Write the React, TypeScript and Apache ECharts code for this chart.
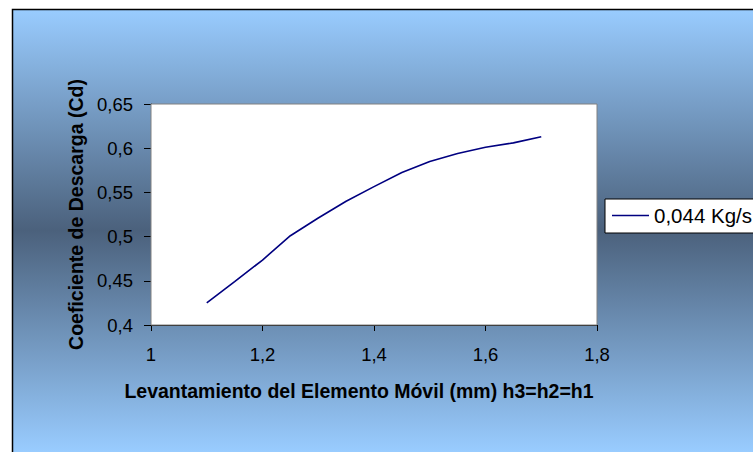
import React, { useEffect, useRef } from "react";
import * as echarts from "echarts";

const xValues = [1.1, 1.15, 1.2, 1.25, 1.3, 1.35, 1.4, 1.45, 1.5, 1.55, 1.6, 1.65, 1.7];
const cdValues = [0.425, 0.449, 0.4735, 0.501, 0.521, 0.54, 0.5565, 0.5725, 0.585, 0.594, 0.601, 0.606, 0.613];
const seriesName = "0,044 Kg/s";
const xTitle = "Levantamiento del Elemento Móvil (mm) h3=h2=h1";
const yTitle = "Coeficiente de Descarga (Cd)";

const fmt = (v: number) => String(+v.toFixed(2)).replace(".", ",");

export default function App() {
  const ref = useRef<HTMLDivElement>(null);
  useEffect(() => {
    document.body.style.margin = "0";
    const chart = echarts.init(ref.current!, null, { renderer: "svg" });
    const font = "'Liberation Sans', Arial, sans-serif";
    chart.setOption({
      animation: false,
      backgroundColor: "#ffffff",
      graphic: [
        {
          type: "rect",
          z: -10,
          silent: true,
          shape: { x: 12.5, y: 9.5, width: 800, height: 500 },
          style: {
            fill: new echarts.graphic.LinearGradient(
              0, 9, 0, 452,
              [
                { offset: 0, color: "#99CCFF" },
                { offset: 0.5, color: "#4B617C" },
                { offset: 1, color: "#99CCFF" },
              ],
              true
            ),
            stroke: "#000",
            lineWidth: 1.5,
          },
        },
      ],
      grid: {
        left: 151,
        top: 104,
        width: 446,
        height: 221,
        show: true,
        backgroundColor: "#ffffff",
        borderColor: "#808080",
        borderWidth: 1,
        z: 1,
      },
      legend: {
        left: 605,
        top: 199,
        backgroundColor: "#ffffff",
        borderColor: "#000",
        borderWidth: 1,
        borderRadius: 0,
        padding: [6, 30, 7, 7],
        itemWidth: 37,
        itemHeight: 18,
        textStyle: { fontFamily: font, fontSize: 20.5, color: "#000" },
        data: [{ name: seriesName, icon: "path://M0,8 L37,8 L37,9.5 L0,9.5 Z" }],
      },
      xAxis: {
        type: "value",
        min: 1,
        max: 1.8,
        interval: 0.2,
        name: xTitle,
        nameLocation: "middle",
        nameGap: 56,
        nameTextStyle: {
          fontFamily: font,
          fontSize: 19.5,
          fontWeight: "bold",
          color: "#000",
          padding: [0, 30, 0, 0],
        },
        axisLine: { show: true, onZero: false, lineStyle: { color: "#000", width: 1 } },
        axisTick: { show: true, inside: false, length: 6, lineStyle: { color: "#000" } },
        axisLabel: {
          margin: 20,
          fontFamily: font,
          fontSize: 18.5,
          color: "#000",
          formatter: (v: number) => fmt(v),
        },
        splitLine: { show: false },
      },
      yAxis: {
        type: "value",
        min: 0.4,
        max: 0.65,
        interval: 0.05,
        name: yTitle,
        nameLocation: "middle",
        nameGap: 65,
        nameTextStyle: {
          fontFamily: font,
          fontSize: 19.5,
          fontWeight: "bold",
          color: "#000",
        },
        axisLine: { show: true, onZero: false, lineStyle: { color: "#000", width: 1 } },
        axisTick: { show: true, inside: false, length: 7, lineStyle: { color: "#000" } },
        axisLabel: {
          margin: 18,
          fontFamily: font,
          fontSize: 18.5,
          color: "#000",
          formatter: (v: number) => fmt(v),
        },
        splitLine: {
          show: true,
          lineStyle: { color: ["#000", "#000", "#000", "#000", "#000", "#808080"], width: 1 },
        },
      },
      series: [
        {
          name: seriesName,
          type: "line",
          data: xValues.map((x, i) => [x, cdValues[i]]),
          symbol: "none",
          showSymbol: false,
          lineStyle: { color: "#000080", width: 1.6 },
          itemStyle: { color: "#000080" },
          z: 3,
        },
      ],
    });
    return () => chart.dispose();
  }, []);
  return <div ref={ref} style={{ width: 753, height: 452 }} />;
}
